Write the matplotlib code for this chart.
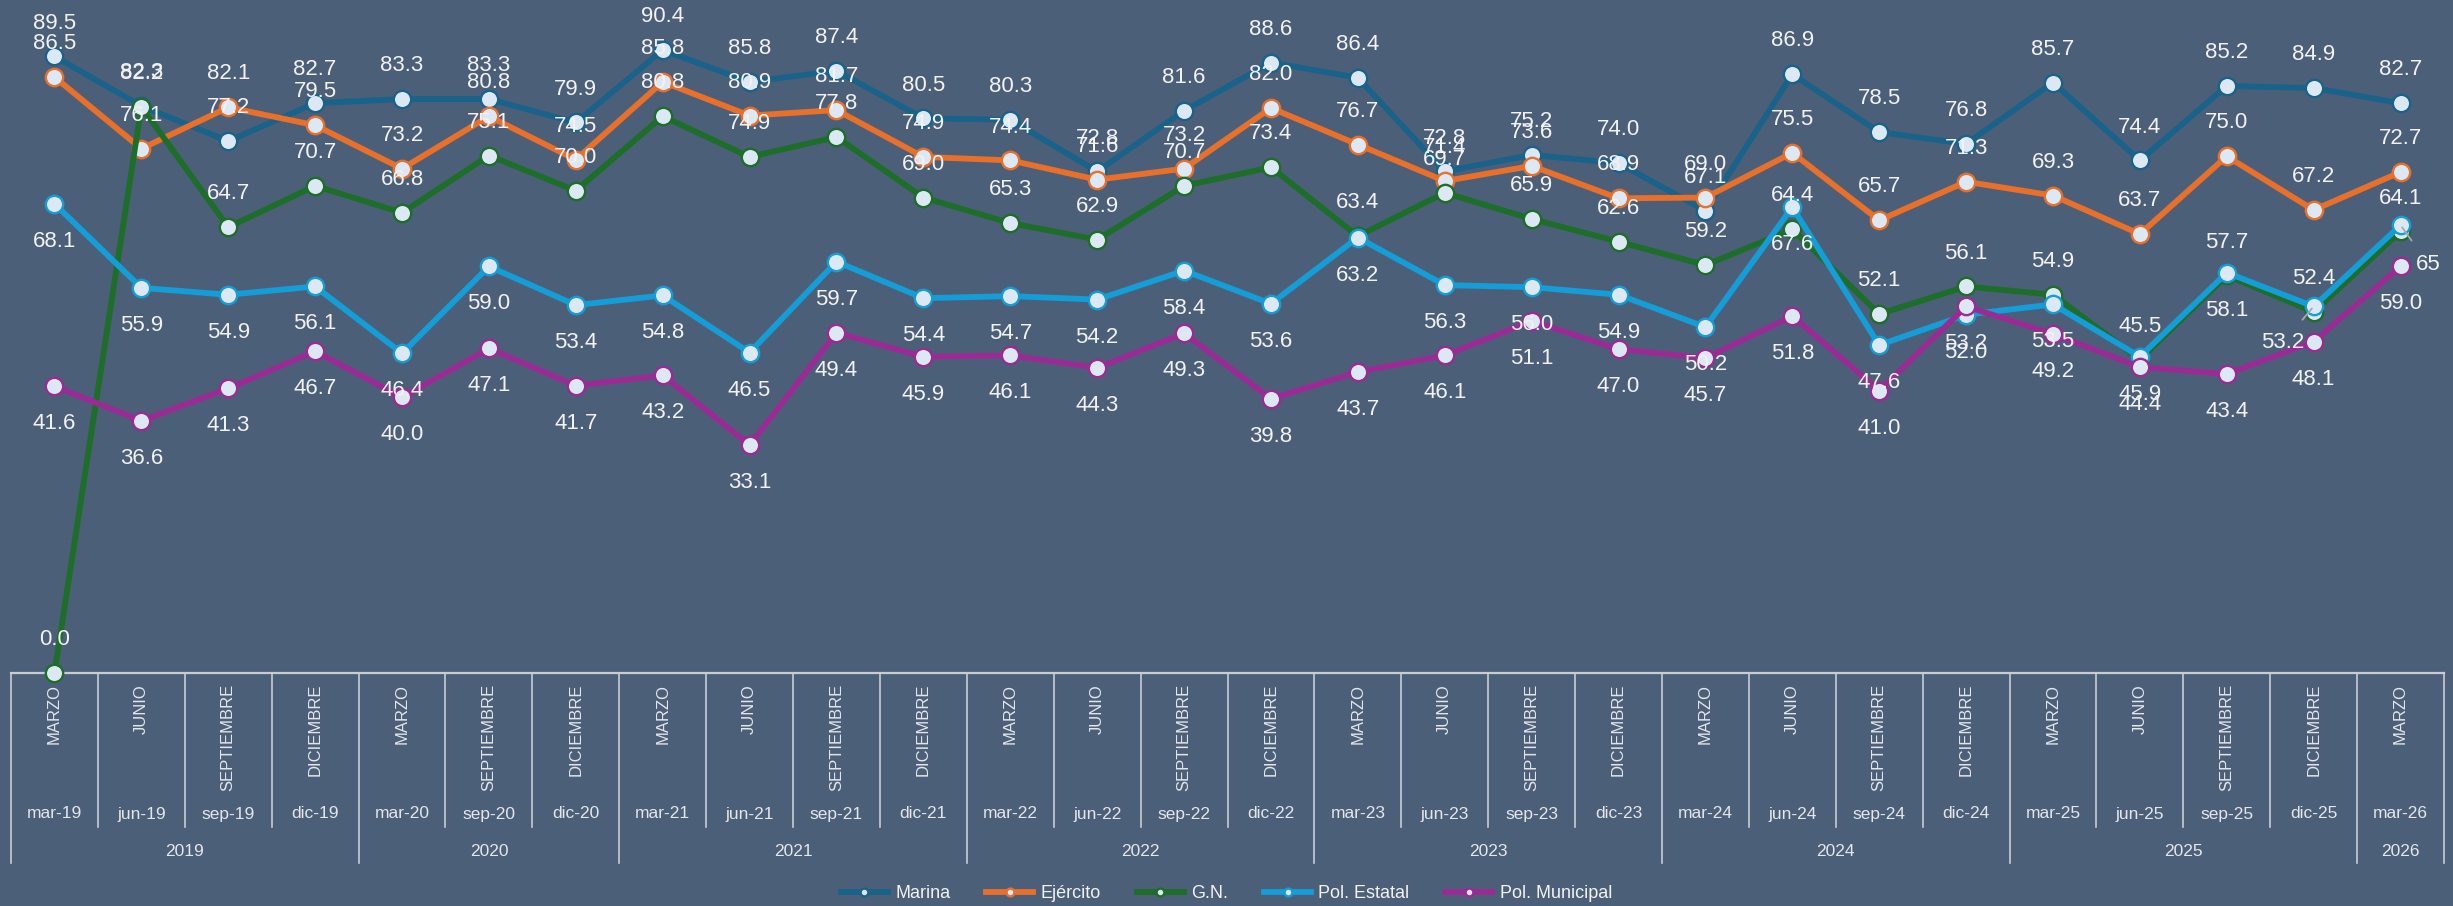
import matplotlib
matplotlib.use("Agg")
import matplotlib.pyplot as plt
from matplotlib.transforms import blended_transform_factory

periods = ["mar-19", "jun-19", "sep-19", "dic-19", "mar-20", "sep-20", "dic-20",
           "mar-21", "jun-21", "sep-21", "dic-21", "mar-22", "jun-22", "sep-22",
           "dic-22", "mar-23", "jun-23", "sep-23", "dic-23", "mar-24", "jun-24",
           "sep-24", "dic-24", "mar-25", "jun-25", "sep-25", "dic-25", "mar-26"]
months = ["MARZO", "JUNIO", "SEPTIEMBRE", "DICIEMBRE", "MARZO", "SEPTIEMBRE", "DICIEMBRE",
          "MARZO", "JUNIO", "SEPTIEMBRE", "DICIEMBRE", "MARZO", "JUNIO", "SEPTIEMBRE",
          "DICIEMBRE", "MARZO", "JUNIO", "SEPTIEMBRE", "DICIEMBRE", "MARZO", "JUNIO",
          "SEPTIEMBRE", "DICIEMBRE", "MARZO", "JUNIO", "SEPTIEMBRE", "DICIEMBRE", "MARZO"]
years = ["2019", "2020", "2021", "2022", "2023", "2024", "2025", "2026"]
year_counts = [4, 3, 4, 4, 4, 4, 4, 1]

marina = [89.5, 82.3, 77.2, 82.7, 83.3, 83.3, 79.9, 90.4, 85.8, 87.4, 80.5, 80.3, 72.8, 81.6,
          88.6, 86.4, 72.8, 75.2, 74.0, 67.1, 86.9, 78.5, 76.8, 85.7, 74.4, 85.2, 84.9, 82.7]
ejercito = [86.5, 76.1, 82.1, 79.5, 73.2, 80.8, 74.5, 85.8, 80.9, 81.7, 74.9, 74.4, 71.6, 73.2,
            82.0, 76.7, 71.4, 73.6, 68.9, 69.0, 75.5, 65.7, 71.3, 69.3, 63.7, 75.0, 67.2, 72.7]
gn = [0.0, 82.2, 64.7, 70.7, 66.8, 75.1, 70.0, 80.8, 74.9, 77.8, 69.0, 65.3, 62.9, 70.7,
      73.4, 63.4, 69.7, 65.9, 62.6, 59.2, 64.4, 52.1, 56.1, 54.9, 45.5, 57.7, 52.4, 64.1]
pol_estatal = [68.1, 55.9, 54.9, 56.1, 46.4, 59.0, 53.4, 54.8, 46.5, 59.7, 54.4, 54.7, 54.2, 58.4,
               53.6, 63.2, 56.3, 56.0, 54.9, 50.2, 67.6, 47.6, 52.0, 53.5, 45.9, 58.1, 53.2, 65.0]
pol_municipal = [41.6, 36.6, 41.3, 46.7, 40.0, 47.1, 41.7, 43.2, 33.1, 49.4, 45.9, 46.1, 44.3, 49.3,
                 39.8, 43.7, 46.1, 51.1, 47.0, 45.7, 51.8, 41.0, 53.2, 49.2, 44.4, 43.4, 48.1, 59.0]

series = [
    ("Marina", marina, "#19628A", "above"),
    ("Ejército", ejercito, "#E8702A", "above"),
    ("G.N.", gn, "#1C6E28", "above"),
    ("Pol. Estatal", pol_estatal, "#149DD6", "below"),
    ("Pol. Municipal", pol_municipal, "#9B2B94", "below"),
]

BG = "#4C5F78"
TXT = "#F2F2F2"
GRID = "#C9CDD3"

plt.rcParams["font.family"] = ["Liberation Sans", "DejaVu Sans"]

W, H = 2453, 906
fig = plt.figure(figsize=(W / 100, H / 100), dpi=100, facecolor=BG)
ax_left, ax_right, ax_bottom_px = 11, 2444, 673
ax = fig.add_axes([ax_left / W, 1 - ax_bottom_px / H, (ax_right - ax_left) / W, ax_bottom_px / H])
ax.set_facecolor(BG)
n = len(periods)
x = [i + 0.5 for i in range(n)]
ax.set_xlim(0, n)
ax.set_ylim(0, ax_bottom_px / 6.89)
for s in ax.spines.values():
    s.set_visible(False)
ax.set_xticks([])
ax.set_yticks([])

for z, (name, vals, col, pos) in enumerate(series):
    ax.plot(x, vals, color=col, lw=4.2, marker="o", ms=12.5, mfc="#DDE8F5",
            mec=col, mew=1.7, label=name, zorder=3 + z, clip_on=False)

# data labels (two were moved by hand in the original, with leader lines)
moved = {("Pol. Estatal", 26): ((-22, -26), "53.2"),
         ("Pol. Estatal", 27): ((20, -28), "65")}
for name, vals, col, pos in series:
    for i, v in enumerate(vals):
        key = (name, i)
        if key in moved:
            off, txt = moved[key]
            ax.annotate(txt, (x[i], v), xytext=off, textcoords="offset points",
                        ha="center", va="center", fontsize=16, color=TXT, zorder=20,
                        annotation_clip=False,
                        arrowprops=dict(arrowstyle="-", color="#A5A9B0", lw=1.3,
                                        shrinkA=9, shrinkB=2))
            continue
        dy = 24 if pos == "above" else -27
        ax.annotate(f"{v:.1f}", (x[i], v), xytext=(0, dy), textcoords="offset points",
                    ha="center", va="center", fontsize=16, color=TXT, zorder=20,
                    annotation_clip=False)

# multi-level category axis
tr = blended_transform_factory(ax.transData, fig.transFigure)
fy = lambda py: 1 - py / H
ax.plot([0, n], [fy(673), fy(673)], color=GRID, lw=1.6, transform=tr, clip_on=False)
year_edges = [0]
for c in year_counts:
    year_edges.append(year_edges[-1] + c)
for i in range(n + 1):
    bottom = 863 if i in year_edges else 827
    ax.plot([i, i], [fy(673), fy(bottom)], color=GRID, lw=1.2, transform=tr, clip_on=False)
for i in range(n):
    ax.text(x[i], fy(684), months[i], rotation=90, ha="center", va="top",
            fontsize=12, color="#E4E6EA", transform=tr)
    ax.text(x[i], fy(814), periods[i], ha="center", va="center",
            fontsize=12.5, color="#E4E6EA", transform=tr)
for k, yr in enumerate(years):
    mid = (year_edges[k] + year_edges[k + 1]) / 2
    ax.text(mid, fy(851), yr, ha="center", va="center", fontsize=12.5,
            color="#E4E6EA", transform=tr)

leg = fig.legend(loc="center", bbox_to_anchor=(0.5, 1 - 894 / H), ncol=5, frameon=False,
                 fontsize=13, handlelength=2.6, columnspacing=2.0, markerscale=0.45,
                 handletextpad=0.4)
for t in leg.get_texts():
    t.set_color(TXT)

fig.savefig("out.png", dpi=100, facecolor=BG)
